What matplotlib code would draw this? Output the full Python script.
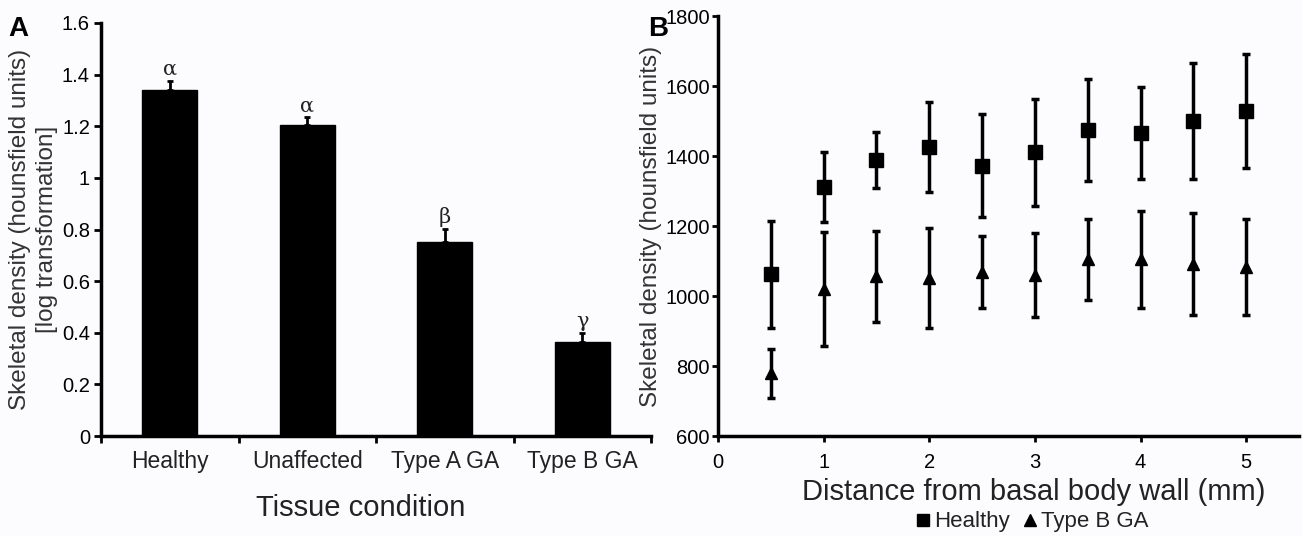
import matplotlib
matplotlib.use("Agg")
import matplotlib.pyplot as plt
from matplotlib.lines import Line2D

plt.rcParams['font.family'] = ['Liberation Sans', 'DejaVu Sans']
num_size = 14.5

# Panel A data
categories = ["Healthy", "Unaffected", "Type A GA", "Type B GA"]
bar_means = [1.341, 1.205, 0.752, 0.365]
bar_errs = [0.034, 0.030, 0.050, 0.034]
bar_letters = ["α", "α", "β", "γ"]
a_yticks = [0, 0.2, 0.4, 0.6, 0.8, 1, 1.2, 1.4, 1.6]
a_yticklabels = ["0", "0.2", "0.4", "0.6", "0.8", "1", "1.2", "1.4", "1.6"]

# Panel B data
distance = [0.5, 1, 1.5, 2, 2.5, 3, 3.5, 4, 4.5, 5]
healthy_mean = [1063, 1311, 1388, 1426, 1373, 1411, 1475, 1467, 1500, 1529]
healthy_err = [153, 100, 80, 128, 147, 152, 146, 132, 166, 163]
typeb_mean = [780, 1020, 1057, 1052, 1069, 1061, 1105, 1105, 1091, 1083]
typeb_err = [70, 163, 130, 143, 103, 120, 116, 138, 146, 138]
b_yticks = [600, 800, 1000, 1200, 1400, 1600, 1800]
b_xticks = [0, 1, 2, 3, 4, 5]

bg = '#fcfcfe'
fig = plt.figure(figsize=(13.03, 5.36), dpi=100, facecolor=bg)

# ---------- Panel A ----------
axA = fig.add_axes([101/1303, 1-436/536, 550/1303, 413/536], facecolor=bg)
xpos = list(range(len(categories)))
axA.bar(xpos, bar_means, width=0.4, color='black', edgecolor='black', zorder=2)
axA.errorbar(xpos, bar_means, yerr=[[0]*4, bar_errs], fmt='none', ecolor='black',
             elinewidth=2, capsize=2.5, capthick=2, zorder=3)
for x, m, e, t in zip(xpos, bar_means, bar_errs, bar_letters):
    axA.text(x, m + e + 0.008, t, ha='center', va='bottom', fontsize=15,
             family=['DejaVu Serif'], color='#222222')
axA.set_xlim(-0.5, 3.5)
axA.set_ylim(0, 1.6)
axA.set_yticks(a_yticks)
axA.set_yticklabels(a_yticklabels, fontsize=num_size)
axA.set_xticks(xpos)
axA.set_xticklabels(categories, fontsize=16.5, color='#222222')
axA.set_xticks([-0.5, 0.5, 1.5, 2.5, 3.5], minor=True)
axA.tick_params(axis='x', which='major', length=0, pad=10)
axA.tick_params(axis='x', which='minor', length=5, width=2, direction='out')
axA.tick_params(axis='y', length=5, width=2, direction='out', pad=3)
for s in ['top', 'right']:
    axA.spines[s].set_visible(False)
for s in ['left', 'bottom']:
    axA.spines[s].set_linewidth(2.5)
axA.set_ylabel("Skeletal density (hounsfield units)\n[log transformation]",
               fontsize=17.5, color='#333333', labelpad=3, linespacing=1.3)
axA.set_xlabel("Tissue condition", fontsize=21, color='#222222', labelpad=12)
axA.xaxis.set_label_coords((361 - 101) / 550, -0.14)

# ---------- Panel B ----------
axB = fig.add_axes([718/1303, 1-436/536, 581/1303, 419.6/536], facecolor=bg)
axB.errorbar(distance, healthy_mean, yerr=healthy_err, fmt='s', color='black',
             markersize=10, elinewidth=2.5, capsize=3, capthick=2.5, zorder=3)
axB.errorbar(distance, typeb_mean, yerr=typeb_err, fmt='^', color='black',
             markersize=9, elinewidth=2.5, capsize=3, capthick=2.5, zorder=3)
axB.set_xlim(0, 5.5)
axB.set_ylim(600, 1800)
axB.set_yticks(b_yticks)
axB.set_yticklabels([str(v) for v in b_yticks], fontsize=num_size)
axB.set_xticks(b_xticks)
axB.set_xticklabels([str(v) for v in b_xticks], fontsize=num_size)
axB.tick_params(axis='both', length=4, width=2, direction='out')
axB.tick_params(axis='y', pad=2)
axB.tick_params(axis='x', pad=8)
for s in ['top', 'right']:
    axB.spines[s].set_visible(False)
for s in ['left', 'bottom']:
    axB.spines[s].set_linewidth(2.5)
axB.set_ylabel("Skeletal density (hounsfield units)", fontsize=17.5,
               color='#333333', labelpad=2)
axB.set_xlabel("Distance from basal body wall (mm)", fontsize=21,
               color='#222222', labelpad=4)
axB.xaxis.set_label_coords((1034 - 718) / 581, -0.1)

handles = [Line2D([], [], marker='s', color='black', linestyle='none', markersize=9),
           Line2D([], [], marker='^', color='black', linestyle='none', markersize=9)]
fig.legend(handles, ["Healthy", "Type B GA"], loc='center', ncol=2,
           bbox_to_anchor=(1030/1303, 1-522/536), frameon=False, fontsize=16,
           handletextpad=0.0, columnspacing=0.4, handlelength=1.0,
           labelcolor='#222222')

fig.text(8/1303, 1-29/536, "A", fontsize=20, fontweight='bold', va='center', ha='left')
fig.text(648/1303, 1-29/536, "B", fontsize=20, fontweight='bold', va='center', ha='left')

fig.savefig("out.png", dpi=100, facecolor=bg)
